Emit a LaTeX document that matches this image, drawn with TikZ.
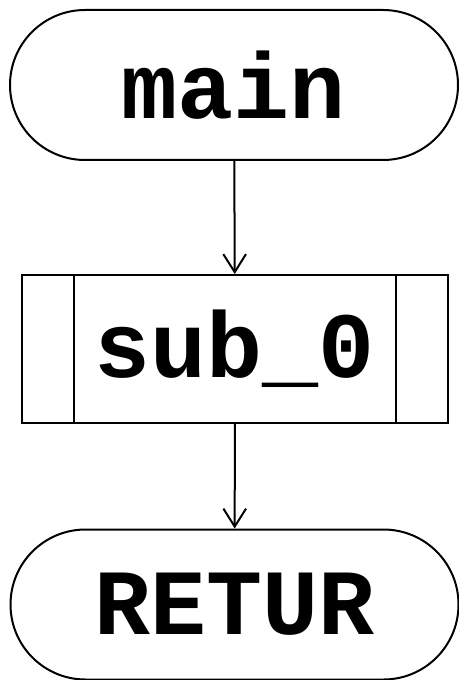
\documentclass[tikz,border=0pt]{standalone}
\usepackage{fontspec}
\newfontfamily\codefont{Liberation Mono}
\usetikzlibrary{shapes.misc,arrows.meta}

\tikzset{every picture/.style={line width=1.5pt}}
\tikzset{
  terminal/.style={draw, rounded rectangle, rounded rectangle arc length=180, minimum width=336pt, minimum height=112.5pt, inner sep=0pt, font=\codefont\bfseries\fontsize{70}{70}\selectfont},
  subproc/.style={draw, rectangle, minimum width=319.5pt, minimum height=111pt, inner sep=0pt, font=\codefont\bfseries\fontsize{70}{70}\selectfont},
  flow/.style={-{Straight Barb[length=13.5pt,width=17pt]}}
}

\begin{document}
\begin{tikzpicture}[x=0.75pt,y=0.75pt,yscale=-1,xscale=1]
\useasboundingbox (0,0) rectangle (459,680);

%Flowchart: Terminator
\node [terminal] (main) at (234,85) {main};
%Flowchart: Predefined Process
\node [subproc] (sub) at (235,349) {sub\_0};
\draw ([xshift=39.75pt]sub.north west) -- ([xshift=39.75pt]sub.south west);
\draw ([xshift=-39.75pt]sub.north east) -- ([xshift=-39.75pt]sub.south east);
%Flowchart: Terminator
\node [terminal] (retur) at (234.5,604.5) {RETUR};

%Straight Lines
\draw [flow] (main) -- (sub);
\draw [flow] (sub) -- (retur);

\end{tikzpicture}
\end{document}
